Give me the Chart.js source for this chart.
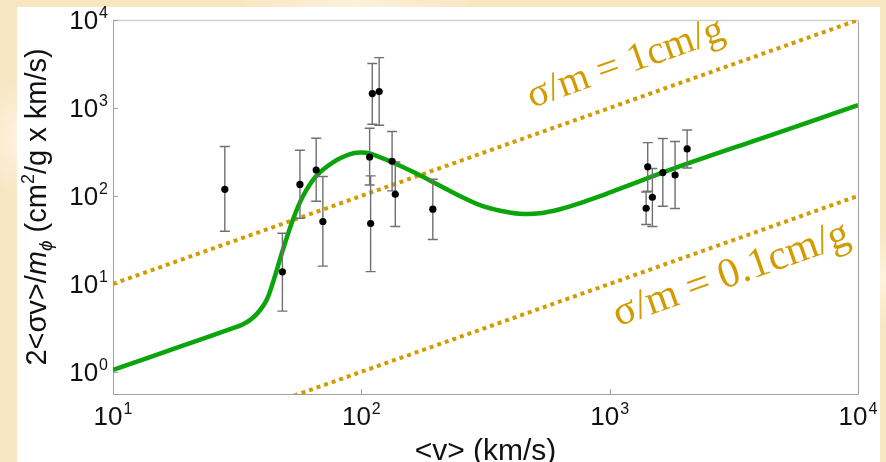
<!DOCTYPE html>
<html>
<head>
<meta charset="utf-8">
<script src="https://cdn.jsdelivr.net/npm/chart.js@4.4.0/dist/chart.umd.min.js"></script>
<style>
  html, body { margin: 0; padding: 0; }
  body {
    width: 886px; height: 462px; overflow: hidden; position: relative;
    background:
      radial-gradient(circle at 3% 30%, #fff4e2 0, rgba(255,244,226,0) 60px),
      radial-gradient(circle at 40% 0%, #fdf1da 0, rgba(253,241,218,0) 120px),
      radial-gradient(circle at 99% 60%, #fff3de 0, rgba(255,243,222,0) 50px),
      #f8e5c2;
  }
  #paper { position: absolute; left: 17px; top: 7px; width: 863px; height: 455px; background: #fff; }
  #chart { position: absolute; left: 0; top: 0; }
</style>
</head>
<body>
<div id="paper"></div>
<canvas id="chart" width="886" height="462"></canvas>
<script>
// model curve (v in km/s, 2<σv>/m)
const curveV = [10, 18.6, 31, 33.1, 35.6, 38.4, 41.7, 44.9, 48.4, 53.1, 58.2, 65.7, 76.9, 90.1, 98.8, 108.4, 133, 167.5, 207.5, 250, 300.6, 362, 435.6, 524, 631, 760, 915, 1101, 1921, 4035, 10000];
const curveY = [1.05, 1.93, 3.2, 3.44, 3.87, 4.73, 6.7, 12.3, 24.8, 54.4, 99.2, 167, 241, 298, 311, 302, 241.5, 178.8, 130.6, 99.2, 78.4, 67.9, 62.8, 63.6, 70.6, 82.6, 99.2, 120.8, 217.6, 446, 1075];

// measured points with error bars
const pointV  = [28.2, 48.1, 56.6, 65.8, 70, 110.7, 118, 108, 109, 133, 137, 194, 1423, 1402, 1486, 1637, 1834, 2051];
const pointY  = [119, 13.7, 135, 197, 51.2, 1458, 1536, 277, 48.6, 248, 104.5, 70.6, 214, 72.4, 96.6, 184.5, 173, 342];
const pointLo = [39.7, 4.9, 55.8, 87, 15.9, 653, 636, 133, 13.8, 114, 44.9, 32, 113, 47.3, 44.9, 76.4, 71.9, 208];
const pointHi = [364, 37.7, 331, 453, 166, 3197, 3738, 588, 169, 539, 243, 155, 404, 111, 205, 449, 415, 562];

// constant cross-section guide lines
const guideV = [10, 10000];
const guide1 = [10, 10000];
const guide01 = [0.1, 100];

const xTicks = [10, 100, 1000, 10000];
const xTickExp = ['1', '2', '3', '4'];
const yTicks = [1, 10, 100, 1000, 10000];
const yTickExp = ['0', '1', '2', '3', '4'];

const GREEN = '#0aa50a';
const GOLD = '#d29c00';
const SANS = '"Liberation Sans", Arial, sans-serif';
const SERIF = '"Liberation Serif", "Times New Roman", serif';

const toXY = (xs, ys) => xs.map((v, i) => ({ x: v, y: ys[i] }));

const decorations = {
  id: 'decorations',
  beforeDatasetsDraw(chart) {
    const { ctx, chartArea: a, scales: { x, y } } = chart;
    ctx.save();
    // frame
    ctx.lineWidth = 1;
    ctx.strokeStyle = '#a0a0a0';
    ctx.beginPath();
    ctx.moveTo(a.left + 0.5, a.top);
    ctx.lineTo(a.left + 0.5, a.bottom + 0.5);
    ctx.lineTo(a.right + 0.5, a.bottom + 0.5);
    ctx.lineTo(a.right + 0.5, a.top);
    ctx.stroke();
    ctx.strokeStyle = '#d0d0d0';
    ctx.lineWidth = 1.5;
    ctx.beginPath();
    ctx.moveTo(a.left, a.top + 0.5);
    ctx.lineTo(a.right + 1, a.top + 0.5);
    ctx.stroke();
    // major ticks
    ctx.strokeStyle = '#a0a0a0';
    ctx.lineWidth = 1;
    ctx.beginPath();
    xTicks.forEach(v => {
      const px = Math.round(x.getPixelForValue(v)) + 0.5;
      ctx.moveTo(px, a.bottom);
      ctx.lineTo(px, a.bottom - 5);
    });
    yTicks.forEach(v => {
      const py = Math.round(y.getPixelForValue(v)) + 0.5;
      ctx.moveTo(a.left, py);
      ctx.lineTo(a.left + 5, py);
    });
    ctx.stroke();
    ctx.restore();
  },
  afterDatasetsDraw(chart) {
    const { ctx, scales: { x, y } } = chart;
    ctx.save();
    // error bars
    ctx.strokeStyle = '#707070';
    ctx.lineWidth = 1.4;
    ctx.beginPath();
    pointV.forEach((v, i) => {
      const px = x.getPixelForValue(v);
      const t = y.getPixelForValue(pointHi[i]);
      const b = y.getPixelForValue(pointLo[i]);
      ctx.moveTo(px, t); ctx.lineTo(px, b);
      ctx.moveTo(px - 5, t); ctx.lineTo(px + 5, t);
      ctx.moveTo(px - 5, b); ctx.lineTo(px + 5, b);
    });
    ctx.stroke();
    // dots on top
    ctx.fillStyle = '#000';
    pointV.forEach((v, i) => {
      ctx.beginPath();
      ctx.arc(x.getPixelForValue(v), y.getPixelForValue(pointY[i]), 3.6, 0, Math.PI * 2);
      ctx.fill();
    });
    ctx.restore();
  },
  afterDraw(chart) {
    const { ctx, chartArea: a, scales: { x, y } } = chart;
    ctx.save();
    ctx.fillStyle = '#111';
    const big = '26px ' + SANS, small = '16px ' + SANS;
    const pow = (base, exp) => {
      ctx.font = big; const w1 = ctx.measureText(base).width;
      ctx.font = small; const w2 = ctx.measureText(exp).width;
      return [w1, w2];
    };
    // x tick labels
    xTicks.forEach((v, i) => {
      const [w1, w2] = pow('10', xTickExp[i]);
      const cx = x.getPixelForValue(v);
      const x0 = cx - (w1 + w2 + 1) / 2;
      const base = a.bottom + 31;
      ctx.font = big; ctx.fillText('10', x0, base);
      ctx.font = small; ctx.fillText(xTickExp[i], x0 + w1 + 1, base - 11);
    });
    // y tick labels
    yTicks.forEach((v, i) => {
      const [w1, w2] = pow('10', yTickExp[i]);
      const cy = y.getPixelForValue(v);
      const x0 = a.left - 5 - (w1 + w2 + 1);
      const base = cy + 9;
      ctx.font = big; ctx.fillText('10', x0, base);
      ctx.font = small; ctx.fillText(yTickExp[i], x0 + w1 + 1, base - 11);
    });
    // x title
    ctx.font = '30px ' + SANS;
    ctx.textAlign = 'center';
    ctx.fillText('<v> (km/s)', (a.left + a.right) / 2, 460);
    ctx.textAlign = 'left';
    // y title with mixed styles
    const segs = [
      { t: '2<σv>/', f: '29px ' + SANS, dy: 0 },
      { t: 'm', f: 'italic 29px ' + SANS, dy: 0 },
      { t: 'ϕ', f: 'italic 19px ' + SANS, dy: 6 },
      { t: ' (cm', f: '29px ' + SANS, dy: 0 },
      { t: '2', f: '18px ' + SANS, dy: -12 },
      { t: '/g x km/s)', f: '29px ' + SANS, dy: 0 }
    ];
    let total = 0;
    segs.forEach(s => { ctx.font = s.f; s.w = ctx.measureText(s.t).width; total += s.w; });
    ctx.translate(46, (a.top + a.bottom) / 2);
    ctx.rotate(-Math.PI / 2);
    let cur = -total / 2;
    segs.forEach(s => { ctx.font = s.f; ctx.fillText(s.t, cur, s.dy); cur += s.w; });
    ctx.restore();

    // guide line labels, aligned with the lines
    const ang = Math.atan2(
      y.getPixelForValue(guide1[1]) - y.getPixelForValue(guide1[0]),
      x.getPixelForValue(guideV[1]) - x.getPixelForValue(guideV[0])
    );
    const along = (text, v, factor, off, size) => {
      ctx.save();
      ctx.translate(x.getPixelForValue(v), y.getPixelForValue(v * factor));
      ctx.rotate(ang);
      ctx.font = size + 'px ' + SERIF;
      ctx.fillStyle = GOLD;
      ctx.textAlign = 'center';
      ctx.fillText(text, 0, off);
      ctx.restore();
    };
    along('σ/m = 1cm/g', 1300, guide1[0] / guideV[0], -26, 40);
    along('σ/m = 0.1cm/g', 2800, guide01[0] / guideV[0], 43, 42);
  }
};

new Chart(document.getElementById('chart').getContext('2d'), {
  type: 'scatter',
  data: {
    datasets: [
      {
        type: 'line',
        data: toXY(curveV, curveY),
        borderColor: GREEN,
        borderWidth: 4.5,
        pointRadius: 0,
        tension: 0.3,
        order: 1
      },
      {
        type: 'line',
        data: toXY(guideV, guide1),
        borderColor: GOLD,
        borderWidth: 4,
        borderDash: [4, 4],
        borderCapStyle: 'butt',
        pointRadius: 0,
        order: 2
      },
      {
        type: 'line',
        data: toXY(guideV, guide01),
        borderColor: GOLD,
        borderWidth: 4,
        borderDash: [4, 4],
        borderCapStyle: 'butt',
        pointRadius: 0,
        order: 2
      }
    ]
  },
  options: {
    responsive: false,
    animation: false,
    devicePixelRatio: 1,
    layout: { padding: { left: 113, right: 28, top: 20, bottom: 68 } },
    plugins: { legend: { display: false }, tooltip: { enabled: false } },
    scales: {
      x: {
        type: 'logarithmic', min: 10, max: 10000,
        grid: { display: false }, border: { display: false },
        ticks: { display: false },
        afterFit: s => { s.height = 0; }
      },
      y: {
        type: 'logarithmic', min: 0.56, max: 10000,
        grid: { display: false }, border: { display: false },
        ticks: { display: false },
        afterFit: s => { s.width = 0; }
      }
    }
  },
  plugins: [decorations]
});
</script>
</body>
</html>
